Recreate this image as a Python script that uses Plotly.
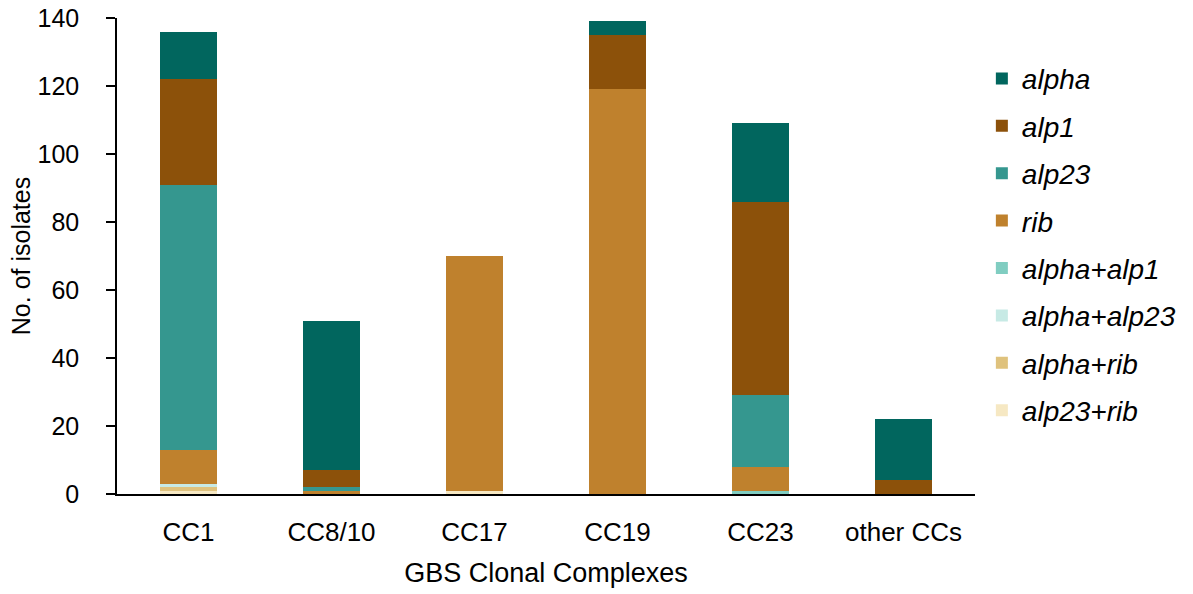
import plotly.graph_objects as go

categories = ["CC1", "CC8/10", "CC17", "CC19", "CC23", "other CCs"]

# stacked from the bottom up
alp23_rib = [1, 0, 1, 0, 0, 0]
alpha_rib = [1, 0, 0, 0, 0, 0]
alpha_alp23 = [1, 0, 0, 0, 0, 0]
alpha_alp1 = [0, 0, 0, 0, 1, 0]
rib = [10, 1, 69, 119, 7, 0]
alp23 = [78, 1, 0, 0, 21, 0]
alp1 = [31, 5, 0, 16, 57, 4]
alpha = [14, 44, 0, 4, 23, 18]

series = [
    ("alp23+rib", alp23_rib, "#F6E8C3"),
    ("alpha+rib", alpha_rib, "#DFC27D"),
    ("alpha+alp23", alpha_alp23, "#C7EAE5"),
    ("alpha+alp1", alpha_alp1, "#80CDC1"),
    ("rib", rib, "#BF812D"),
    ("alp23", alp23, "#35978F"),
    ("alp1", alp1, "#8C510A"),
    ("alpha", alpha, "#01665E"),
]

fig = go.Figure()
for i, (name, vals, color) in enumerate(series):
    # top of the stack first in the legend
    fig.add_trace(go.Bar(x=categories, y=vals, name=name, legendgroup=name,
                         legendrank=len(series) - i,
                         marker=dict(color=color, line=dict(width=0))))

fig.update_layout(
    barmode="stack",
    bargap=0.6,
    width=1193, height=594,
    margin=dict(l=117, r=215, t=18, b=100),
    paper_bgcolor="white", plot_bgcolor="white",
    font=dict(family="Liberation Sans, Arial", size=25, color="black"),
    legend=dict(traceorder="grouped", x=1.008, xanchor="left", y=0.925,
                yanchor="top", font=dict(size=28, style="italic"), itemwidth=30,
                tracegroupgap=8),
    xaxis=dict(title=dict(text="GBS Clonal Complexes", font=dict(size=27), standoff=17),
               showline=True, linecolor="black", linewidth=1.5, ticks="",
               tickfont=dict(size=26), ticklabelstandoff=14, automargin=False),
    yaxis=dict(title=dict(text="No. of isolates", font=dict(size=25), standoff=0),
               range=[0, 140], dtick=20, showline=True, linecolor="black",
               linewidth=1.5, ticks="outside", ticklen=9, tickcolor="black",
               tickwidth=1.5, ticklabelstandoff=22,
               showgrid=False, zeroline=False, tickfont=dict(size=25), automargin=False),
)

fig.write_html("out.html", config={"displayModeBar": False},
               post_script="document.body.style.margin='0';")
